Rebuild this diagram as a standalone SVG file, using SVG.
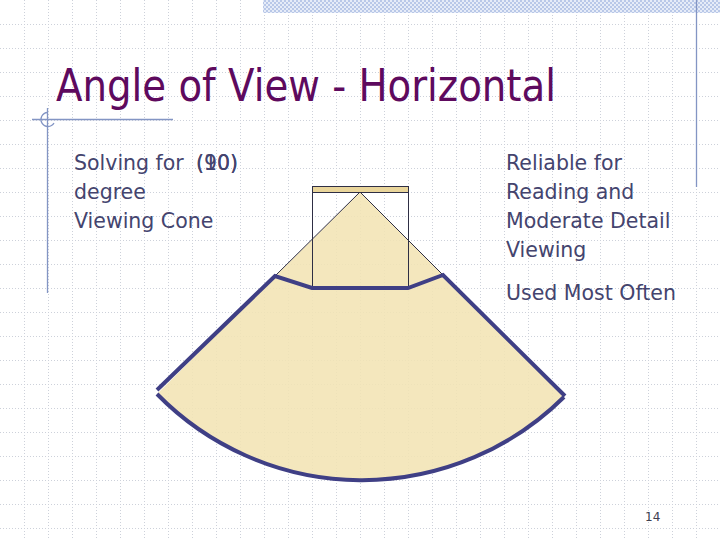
<svg xmlns="http://www.w3.org/2000/svg" width="720" height="540" viewBox="0 0 720 540">
  <defs>
    <pattern id="checker" x="0" y="0" width="4" height="4" patternUnits="userSpaceOnUse">
      <rect width="4" height="4" fill="#e6ecf8"/>
      <rect width="2" height="2" fill="#b9c8e8"/>
      <rect x="2" y="2" width="2" height="2" fill="#b9c8e8"/>
    </pattern>
    <style>
      .grid { fill: none; stroke: #cdd1da; stroke-width: 1; stroke-dasharray: 1 2; }
      .body { font-family: "DejaVu Sans", Verdana, sans-serif; font-size: 20.5px; fill: #44446e; }
      .title { font-family: "DejaVu Sans", Tahoma, sans-serif; font-size: 44px; fill: #5e0a5e; }
      .deco { stroke: #8395c4; stroke-width: 1.3; fill: none; }
      .thick { stroke: #3f3f85; stroke-width: 4; fill: none; stroke-linejoin: miter; }
      .thin { stroke: #2e2e44; stroke-width: 1; fill: none; }
    </style>
  </defs>

  <rect width="720" height="540" fill="#ffffff"/>
  <g id="grid">
    <path class="grid" d="M24.5 0V540M48.5 0V540M72.5 0V540M96.5 0V540M120.5 0V540M144.5 0V540M168.5 0V540M192.5 0V540M216.5 0V540M240.5 0V540M264.5 0V540M288.5 0V540M312.5 0V540M336.5 0V540M360.5 0V540M384.5 0V540M408.5 0V540M432.5 0V540M456.5 0V540M480.5 0V540M504.5 0V540M528.5 0V540M552.5 0V540M576.5 0V540M600.5 0V540M624.5 0V540M648.5 0V540M672.5 0V540M696.5 0V540"/>
    <path class="grid" d="M0 24.5H720M0 48.5H720M0 72.5H720M0 96.5H720M0 120.5H720M0 144.5H720M0 168.5H720M0 192.5H720M0 216.5H720M0 240.5H720M0 264.5H720M0 288.5H720M0 312.5H720M0 336.5H720M0 360.5H720M0 384.5H720M0 408.5H720M0 432.5H720M0 456.5H720M0 480.5H720M0 504.5H720M0 528.5H720"/>
  </g>

  <g id="decoration">
    <rect x="263" y="0" width="457" height="13" fill="url(#checker)"/>
    <line class="deco" x1="696.5" y1="0" x2="696.5" y2="187"/>
    <line class="deco" x1="47.5" y1="108" x2="47.5" y2="293"/>
    <line class="deco" x1="32" y1="119.5" x2="173" y2="119.5"/>
    <path class="deco" d="M47.5 112.5 A7 7 0 1 0 54 123"/>
  </g>

  <g id="title">
    <text class="title" x="56" y="101" textLength="500" lengthAdjust="spacingAndGlyphs">Angle of View - Horizontal</text>
  </g>

  <g id="left-text">
    <text class="body" x="74" y="170">Solving for</text>
    <text class="body" x="196" y="170">(90)</text>
    <text class="body" x="196" y="170">(10)</text>
    <text class="body" x="74" y="199">degree</text>
    <text class="body" x="74" y="228">Viewing Cone</text>
  </g>

  <g id="right-text">
    <text class="body" x="506" y="170">Reliable for</text>
    <text class="body" x="506" y="199">Reading and</text>
    <text class="body" x="506" y="228">Moderate Detail</text>
    <text class="body" x="506" y="257">Viewing</text>
    <text class="body" x="506" y="300">Used Most Often</text>
  </g>

  <g id="cone">
    <path d="M360 192 L157 394 A287 287 0 0 0 564 396 Z" fill="#f2e4b4" fill-opacity="0.88"/>
    <line class="thin" x1="360" y1="192" x2="275" y2="276"/>
    <line class="thin" x1="360" y1="192" x2="443" y2="275"/>
  </g>

  <g id="screen">
    <rect x="312.5" y="186.5" width="96" height="101" class="thin"/>
    <rect x="312.5" y="186.5" width="96" height="6" fill="#e9d59b" stroke="#2e2e44" stroke-width="1"/>
  </g>

  <g id="fan">
    <polyline class="thick" points="157,390 275,276 312,288 408,288 443,275 565,396"/>
    <path class="thick" d="M157 394 A287 287 0 0 0 564 397"/>
  </g>

  <g id="page-number">
    <text x="645" y="521" font-family="DejaVu Sans, Verdana, sans-serif" font-size="12" fill="#404050">14</text>
  </g>
</svg>
